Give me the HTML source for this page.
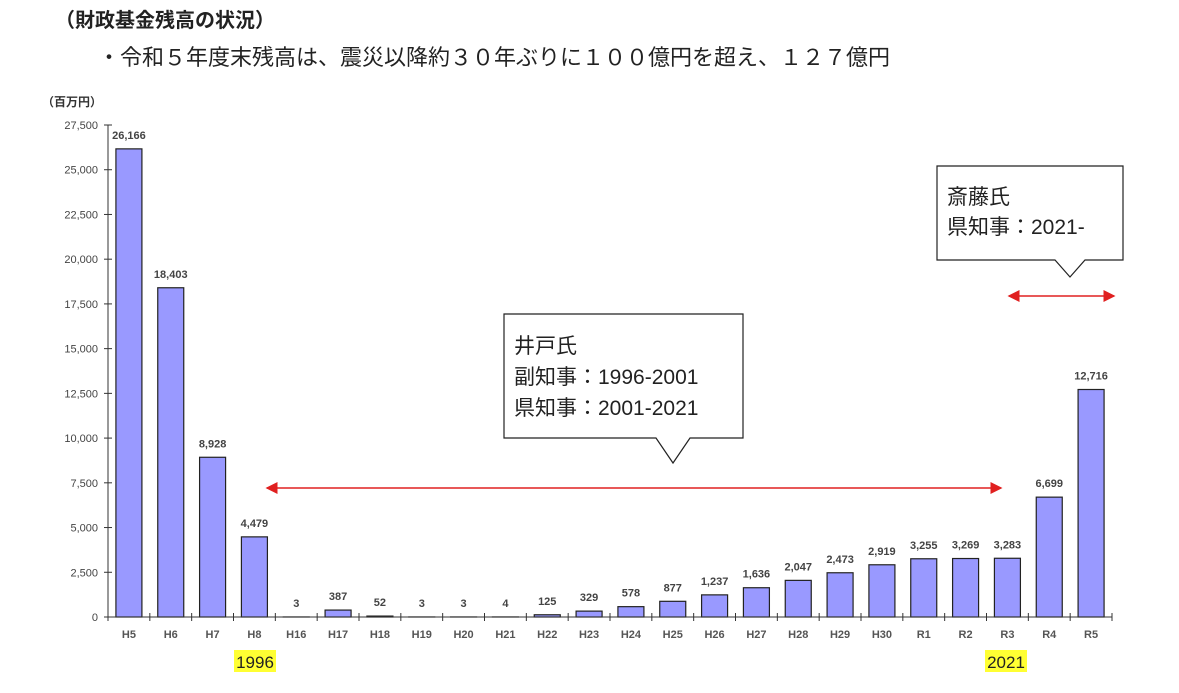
<!DOCTYPE html>
<html><head><meta charset="utf-8"><style>
body{margin:0;background:#fff;width:1179px;height:693px;overflow:hidden;font-family:"Liberation Sans","Noto Sans CJK JP",sans-serif;}
.t{position:absolute;white-space:nowrap;color:#222}
</style></head><body>
<div class="t" style="left:55px;top:4px;font-size:20px;font-weight:bold;">（財政基金残高の状況）</div>
<div class="t" style="left:98px;top:40px;font-size:22px;">・令和５年度末残高は、震災以降約３０年ぶりに１００億円を超え、１２７億円</div>
<svg id="chart" width="1179" height="693" style="position:absolute;left:0;top:0">
<text x="42" y="106" font-size="12" font-weight="bold" fill="#333" font-family="Liberation Sans, Noto Sans CJK JP, sans-serif">（百万円）</text>
<g id="g"></g>
</svg>
<script>
const categories=["H5","H6","H7","H8","H16","H17","H18","H19","H20","H21","H22","H23","H24","H25","H26","H27","H28","H29","H30","R1","R2","R3","R4","R5"];
const values=[26166,18403,8928,4479,3,387,52,3,3,4,125,329,578,877,1237,1636,2047,2473,2919,3255,3269,3283,6699,12716];
const yTicks=[0,2500,5000,7500,10000,12500,15000,17500,20000,22500,25000,27500];
const x0=108,x1=1112,y0=617,yTop=125,yMax=27500;
const step=(x1-x0)/categories.length;
const X=i=>x0+step*(i+0.5);
const Y=v=>y0-(y0-yTop)*v/yMax;
const ns="http://www.w3.org/2000/svg",g=document.getElementById('g');
function mk(t,a){const e=document.createElementNS(ns,t);for(const k in a)e.setAttribute(k,a[k]);g.appendChild(e);return e;}
const fmt=v=>v.toLocaleString('en-US');
yTicks.forEach(v=>{
 const l=mk('line',{x1:x0-4,x2:x0+4,y1:Y(v),y2:Y(v),stroke:'#333'});
 
 
 const t=mk('text',{x:x0-10,y:Y(v)+4,'text-anchor':'end','font-size':11,fill:'#444'});
 t.textContent=fmt(v);
 
 
});
categories.forEach((c,i)=>{
 const bw=26,v=values[i];
 const r=mk('rect',{x:X(i)-bw/2,y:Y(v),width:bw,height:y0-Y(v),fill:'#9999ff',stroke:'#222','stroke-width':1.2});
 
 
 const vl=mk('text',{x:X(i),y:Y(v)-10,'text-anchor':'middle','font-size':11,'font-weight':'bold',fill:'#444'});
 vl.textContent=fmt(v);
 
 
 const tl=mk('text',{x:X(i),y:y0+21,'text-anchor':'middle','font-size':11,'font-weight':'bold',fill:'#555'});
 tl.textContent=c;
 
 
});
for(let i=0;i<=categories.length;i++){
 const t=mk('line',{x1:x0+step*i,x2:x0+step*i,y1:y0-4,y2:y0+4,stroke:'#333'});
 
 
}
const ax=mk('line',{x1:x0,x2:x0,y1:yTop,y2:y0,stroke:'#333'});


const axx=mk('line',{x1:x0,x2:x1,y1:y0,y2:y0,stroke:'#333'});


</script>
<svg width="1179" height="693" style="position:absolute;left:0;top:0" font-family="Liberation Sans, Noto Sans CJK JP, sans-serif">
<defs><marker id="ah" markerWidth="8" markerHeight="8" refX="7" refY="4" orient="auto-start-reverse"><path d="M0,0 L8,4 L0,8 z" fill="#e02020"/></marker></defs>
<line x1="267" y1="488" x2="1001" y2="488" stroke="#e02020" stroke-width="1.5" marker-start="url(#ah)" marker-end="url(#ah)"/>
<line x1="1009" y1="296" x2="1114" y2="296" stroke="#e02020" stroke-width="1.5" marker-start="url(#ah)" marker-end="url(#ah)"/>
<path d="M504,314 H743 V438 H690 L673,463 L656,438 H504 Z" fill="#fff" stroke="#222" stroke-width="1.2"/>
<text x="514" y="353" font-size="21" fill="#222">井戸氏</text>
<text x="514" y="384" font-size="21" fill="#222">副知事：1996-2001</text>
<text x="514" y="415" font-size="21" fill="#222">県知事：2001-2021</text>
<path d="M937,166 H1123 V260 H1085 L1070,277 L1055,260 H937 Z" fill="#fff" stroke="#222" stroke-width="1.2"/>
<text x="947" y="204" font-size="21" fill="#222">斎藤氏</text>
<text x="947" y="234" font-size="21" fill="#222">県知事：2021-</text>
<rect x="234" y="650" width="42" height="22" fill="#ffff33"/>
<text x="255" y="668" font-size="17" text-anchor="middle" fill="#222">1996</text>
<rect x="985" y="650" width="42" height="22" fill="#ffff33"/>
<text x="1006" y="668" font-size="17" text-anchor="middle" fill="#222">2021</text>
</svg>
</body></html>
